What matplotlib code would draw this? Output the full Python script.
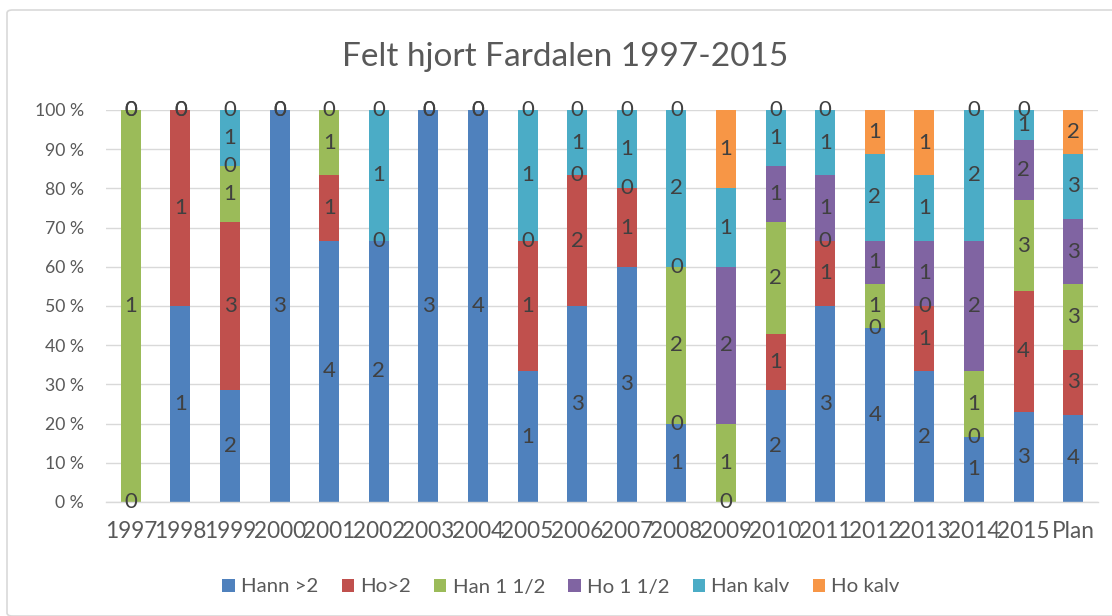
import numpy as np
import matplotlib
matplotlib.use("Agg")
import matplotlib.pyplot as plt
from matplotlib.patches import Patch, FancyBboxPatch
from matplotlib.ticker import FuncFormatter

plt.rcParams['font.family'] = ['Lato', 'DejaVu Sans']

nan = np.nan
categories = ["1997", "1998", "1999", "2000", "2001", "2002", "2003", "2004",
              "2005", "2006", "2007", "2008", "2009", "2010", "2011", "2012",
              "2013", "2014", "2015", "Plan"]
series_names = ["Hann >2", "Ho>2", "Han 1 1/2", "Ho 1 1/2", "Han kalv", "Ho kalv"]
colors = ["#4F81BD", "#C0504D", "#9BBB59", "#8064A2", "#4BACC6", "#F79646"]

hann_over2 = [0, 1, 2, 3, 4, 2, 3, 4, 1, 3, 3, 1, 0, 2, 3, 4, 2, 1, 3, 4]
ho_over2 =   [nan, 1, 3, nan, 1, 0, nan, nan, 1, 2, 1, 0, nan, 1, 1, 0, 1, 0, 4, 3]
han_1_5 =    [1, 0, 1, nan, 1, nan, nan, nan, 0, 0, 0, 2, 1, 2, 0, 1, 0, 1, 3, 3]
ho_1_5 =     [0, nan, 0, nan, nan, nan, nan, nan, nan, nan, nan, 0, 2, 1, 1, 1, 1, 2, 2, 3]
han_kalv =   [0, 0, 1, 0, 0, 1, 0, 0, 1, 1, 1, 2, 1, 1, 1, 2, 1, 2, 1, 3]
ho_kalv =    [nan, nan, 0, 0, nan, 0, 0, 0, 0, 0, 0, 0, 1, 0, 0, 1, 1, 0, 0, 2]

data = np.array([hann_over2, ho_over2, han_1_5, ho_1_5, han_kalv, ho_kalv], dtype=float)

W, H = 1112, 616
fig = plt.figure(figsize=(W / 100, H / 100), dpi=100)
fig.patch.set_facecolor("white")

# chart border
border = FancyBboxPatch((7 / W, 0.0), (W + 20) / W, (H - 10) / H,
                        boxstyle="round,pad=0,rounding_size=0.005",
                        transform=fig.transFigure, facecolor="none",
                        edgecolor="#D9D9D9", linewidth=1.2, clip_on=False)
fig.patches.append(border)

ax = fig.add_axes([106 / W, (H - 502) / H, (1098 - 106) / W, (502 - 110) / H])

vals = np.nan_to_num(data)
totals = vals.sum(axis=0)
pct = vals / totals * 100
x = np.arange(len(categories))
bottom = np.zeros(len(categories))
for i, name in enumerate(series_names):
    ax.bar(x, pct[i], 0.4, bottom=bottom, color=colors[i], label=name, zorder=2)
    for j in range(len(categories)):
        if not np.isnan(data[i, j]):
            ax.text(x[j], bottom[j] + pct[i, j] / 2, f"{int(data[i, j])}",
                    ha="center", va="center", fontsize=16, color="#404040",
                    zorder=5, clip_on=False)
    bottom += pct[i]

ax.set_xlim(-0.5, len(categories) - 0.5)
ax.set_ylim(0, 100)
ax.set_yticks(np.arange(0, 101, 10))
ax.yaxis.set_major_formatter(FuncFormatter(lambda v, p: f"{int(v)} %"))
ax.set_xticks(x)
ax.set_xticklabels(categories)
ax.tick_params(axis="y", length=0, pad=16, labelsize=12.7, labelcolor="#595959")
ax.tick_params(axis="x", length=0, pad=14, labelsize=16.3, labelcolor="#595959")
ax.grid(axis="y", color="#D9D9D9", linewidth=1, zorder=0)
ax.set_axisbelow(True)
for s in ["left", "right", "top"]:
    ax.spines[s].set_visible(False)
ax.spines["bottom"].set_color("#D9D9D9")
ax.spines["bottom"].set_linewidth(1)

fig.text(565 / W, (H - 66) / H, "Felt hjort Fardalen 1997-2015", ha="center",
         va="baseline", fontsize=24, color="#595959")

handles = [Patch(facecolor=c, edgecolor="none") for c in colors]
fig.legend(handles, series_names, loc="center", bbox_to_anchor=(561 / W, (H - 587) / H),
           ncol=6, frameon=False, fontsize=14.7, labelcolor="#595959",
           handlelength=0.6, handleheight=0.6, handletextpad=0.3,
           columnspacing=1.15)

fig.savefig("out.png", dpi=100, facecolor="white")
